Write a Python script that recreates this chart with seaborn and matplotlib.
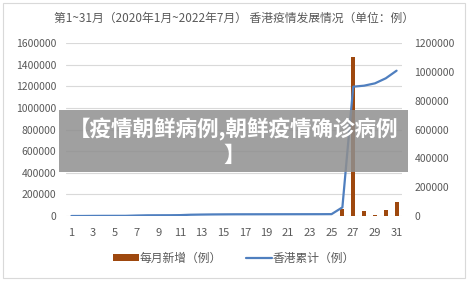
import matplotlib
matplotlib.use("Agg")
import matplotlib.pyplot as plt
import seaborn as sns
import pandas as pd
from matplotlib.patches import Patch, Rectangle
from matplotlib.lines import Line2D

months = list(range(1, 32))
monthly_new = [10, 90, 600, 300, 100, 100, 2100, 1500, 300, 200, 700, 2800,
               1200, 900, 500, 400, 100, 100, 100, 100, 100, 100, 100, 100,
               300, 69000, 1470000, 44000, 10000, 53000, 128000]
cumulative = [10, 100, 700, 1000, 1100, 1200, 3300, 4800, 5100, 5300, 6000, 8800,
              10000, 10900, 11400, 11800, 11900, 12000, 12100, 12200, 12300, 12400, 12500, 12600,
              12900, 60000, 897000, 904000, 920000, 955000, 1008000]
xtick_labels = [str(m) for m in range(1, 32, 2)]
left_ticks = list(range(0, 1600001, 200000))
right_ticks = list(range(0, 1200001, 200000))

title = "第1~31月（2020年1月~2022年7月） 香港疫情发展情况（单位：例）"
bar_label = "每月新增（例）"
line_label = "香港累计（例）"
banner = "【疫情朝鲜病例,朝鲜疫情确诊病例\n】"

sns.set_theme(style="white")
plt.rcParams['font.family'] = ['Noto Sans CJK SC', 'DejaVu Sans']

df = pd.DataFrame({"month": months, "new": monthly_new, "cum": cumulative})

fig = plt.figure(figsize=(4.68, 2.82), dpi=100)
ax = fig.add_axes([66/468, 1-216/282, (402-66)/468, (216-43)/282])

bar_color = "#9E480E"
line_color = "#4F7FBF"
text_color = "#595959"

sns.barplot(data=df, x="month", y="new", native_scale=True, width=0.38,
            color=bar_color, saturation=1, ax=ax, zorder=2,
            edgecolor="none", linewidth=0)
ax.set_xlim(0.5, 31.5)
ax.set_ylim(0, 1600000)
ax.set_yticks(left_ticks)
ax.set_yticklabels([str(t) for t in left_ticks])
ax.set_xticks(list(range(1, 32, 2)))
ax.set_xticklabels(xtick_labels)
ax.grid(axis="y", color="#d9d9d9", linewidth=0.8)
ax.set_axisbelow(True)
for s in ax.spines.values():
    s.set_visible(False)
ax.tick_params(axis="y", labelsize=7.5, colors=text_color, length=0, pad=7)
ax.tick_params(axis="x", labelsize=8, colors=text_color, length=0, pad=9)
ax.set_xlabel("")
ax.set_ylabel("")

ax2 = ax.twinx()
sns.lineplot(data=df, x="month", y="cum", color=line_color, linewidth=1.6, ax=ax2)
ax2.set_ylim(0, 1200000)
ax2.set_yticks(right_ticks)
ax2.set_yticklabels([str(t) for t in right_ticks])
ax2.tick_params(axis="y", labelsize=7.5, colors=text_color, length=0, pad=9)
for s in ax2.spines.values():
    s.set_visible(False)
ax2.grid(False)
ax2.set_ylabel("")
ax2.set_xlim(0.5, 31.5)

fig.text(0.5, 1-18/282, title, ha="center", va="center", fontsize=8.5, color=text_color)

handles = [Patch(facecolor=bar_color, edgecolor="none"),
           Line2D([0], [0], color=line_color, linewidth=1.6)]
fig.legend(handles, [bar_label, line_label], loc="center", bbox_to_anchor=(0.5, 1-258/282),
           ncol=2, frameon=False, fontsize=8.5, labelcolor=text_color,
           handlelength=2.2, handleheight=0.6, columnspacing=2.0, handletextpad=0.1)

# figure border
fig.patches.append(Rectangle((3/468, 4/282), 462/468, 275/282, transform=fig.transFigure,
                             fill=False, edgecolor="#d9d9d9", linewidth=0.8))

# banner overlay
fig.patches.append(Rectangle((59/468, 1-172/282), (408-59)/468, (172-110)/282,
                             transform=fig.transFigure, facecolor="#8f8f8f", alpha=0.85,
                             edgecolor="none", zorder=10))
fig.text(234/468, 1-142/282, banner, ha="center", va="center", fontsize=15.5,
         fontweight="bold", color="white", zorder=11, linespacing=1.2)

fig.savefig("out.png", dpi=100)
